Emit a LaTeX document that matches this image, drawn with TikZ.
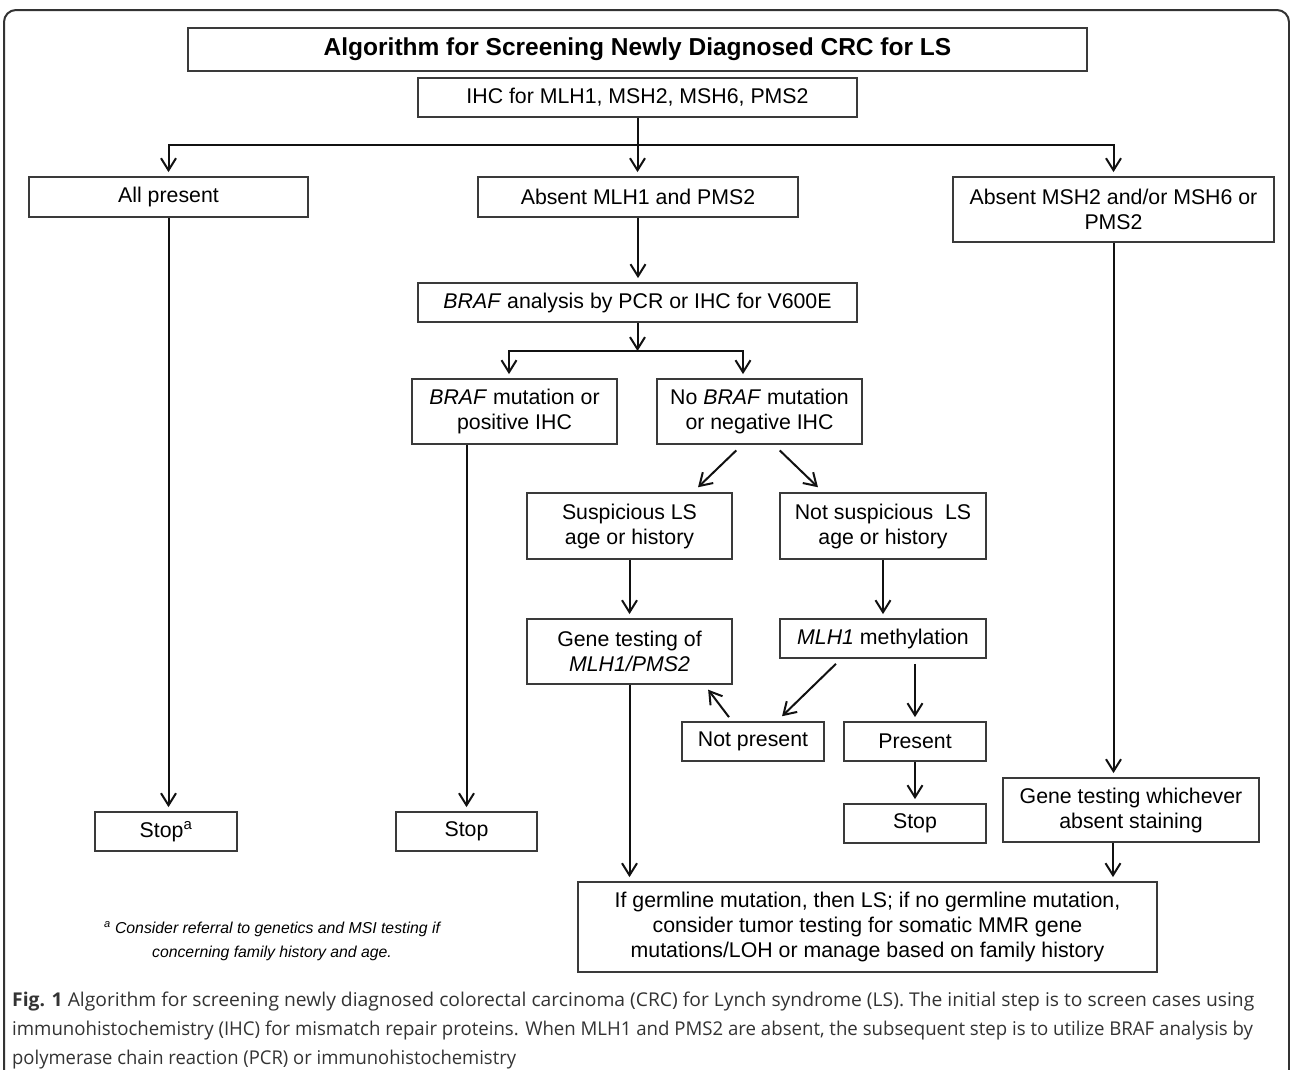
\documentclass[tikz,border=0pt]{standalone}
\usepackage{fontspec}
\usepackage{graphicx}
\setmainfont{Liberation Sans}
\newfontfamily\capfont{Open Sans}
\usetikzlibrary{arrows.meta}
\definecolor{boxgray}{HTML}{3A3A3A}
\definecolor{linecol}{HTML}{111111}
\definecolor{capgray}{HTML}{333333}
\definecolor{framegray}{HTML}{333333}
\begin{document}
\begin{tikzpicture}[x=1pt,y=-1pt,
  box/.style n args={2}{draw=boxgray, line width=1.8pt, minimum width=#1, minimum height=#2,
     inner sep=0pt, align=center, font=\fontsize{21.3}{25}\selectfont, text=black},
  conn/.style={draw=linecol, line width=2pt},
  arr/.style={conn, -{Straight Barb[length=12pt,width=15pt,line width=2pt]}, shorten >=4pt},
  foot/.style={font=\itshape\fontsize{15.8}{24}\selectfont, text=black, align=center},
  captext/.style={anchor=base west, inner sep=0pt, font=\capfont\fontsize{19}{29}\selectfont, text=capgray}]
\useasboundingbox (0,0) rectangle (1290,1069);
\begin{scope}
\clip (0,0) rectangle (1290,1069);
\draw[framegray, line width=2pt, rounded corners=12pt] (4,1090) -- (4,10) -- (1289,10) -- (1289,1090);
\end{scope}

% nodes
\node[box={899}{43}, font=\bfseries\fontsize{24.5}{28}\selectfont] (title) at (637.5,49.5) {Algorithm for Screening Newly Diagnosed CRC for LS};
\node[box={439}{39}] (ihc) at (637.5,97.5) {IHC for MLH1, MSH2, MSH6, PMS2};
\node[box={279}{40}] (allp) at (168.5,197) {All present};
\node[box={320}{40}] (absm) at (638,197) {Absent MLH1 and PMS2};
\node[box={321}{65}] (absh) at (1113.5,209.5) {Absent MSH2 and/or MSH6 or\\PMS2};
\node[box={439}{39}] (braf) at (637.5,302.5) {\textit{BRAF} analysis by PCR or IHC for V600E};
\node[box={205}{65}] (bm) at (514.5,411.5) {\textit{BRAF} mutation or\\positive IHC};
\node[box={205}{65}] (nb) at (759.5,411.5) {No \textit{BRAF} mutation\\or negative IHC};
\node[box={205}{66}] (susp) at (629.5,526) {Suspicious LS\\age or history};
\node[box={206}{66}] (nsusp) at (883,526) {Not suspicious\ \ LS\\age or history};
\node[box={205}{65}] (gt) at (629.5,651.5) {Gene testing of\\\textit{MLH1/PMS2}};
\node[box={206}{39}] (meth) at (883,638.5) {\textit{MLH1} methylation};
\node[box={142}{39}] (np) at (753,741.5) {Not present};
\node[box={142}{39}] (pres) at (915,741.5) {Present};
\node[box={142}{39}] (stopc) at (915,823.5) {Stop};
\node[box={142}{39}] (stopa) at (166,831.5) {Stop\textsuperscript{a}};
\node[box={141}{39}] (stopb) at (466.5,831.5) {Stop};
\node[box={256}{64}] (gtw) at (1131,810) {Gene testing whichever\\absent staining};
\node[box={579}{90}] (final) at (867.5,927) {If germline mutation, then LS; if no germline mutation,\\consider tumor testing for somatic MMR gene\\mutations/LOH or manage based on family history};

\node[foot] (fn) at (272,941) {\textsuperscript{a} Consider referral to genetics and MSI testing if\\concerning family history and age.};

\node[captext] (cap1) at (12,1006) {\scalebox{1.015}[1]{\textbf{Fig. 1} Algorithm for screening newly diagnosed colorectal carcinoma (CRC) for Lynch syndrome (LS). The initial step is to screen cases using}};
\node[captext] (cap2) at (12,1035) {\scalebox{0.98}[1]{immunohistochemistry (IHC) for mismatch repair proteins. When MLH1 and PMS2 are absent, the subsequent step is to utilize BRAF analysis by}};
\node[captext] (cap3) at (12,1064) {\scalebox{0.97}[1]{polymerase chain reaction (PCR) or immunohistochemistry}};

% connectors
\coordinate (j1) at (637.5,145);
\draw[conn] (ihc.south) -- (j1);
\draw[arr] (j1) -| (allp.north);
\draw[arr] (j1) -- (j1 |- absm.north);
\draw[arr] (j1) -| (absh.north);
\draw[arr] (absm.south) -- (absm.south |- braf.north);
\coordinate (j2) at (637.5,351);
\draw[arr, shorten >=0pt] (braf.south) -- (j2);
\draw[arr] (j2) -| ([xshift=-5.5pt]bm.north);
\draw[arr] (j2) -| ([xshift=-16.5pt]nb.north);
\draw[arr, shorten <=8pt, shorten >=7pt] ([xshift=-17.5pt]nb.south) -- ([xshift=63.5pt]susp.north);
\draw[arr, shorten <=8pt, shorten >=7pt] ([xshift=14.5pt]nb.south) -- ([xshift=-60pt]nsusp.north);
\draw[arr] (susp.south) -- (gt.north);
\draw[arr] (nsusp.south) -- (meth.north);
\draw[arr, shorten <=7pt, shorten >=7pt] ([xshift=-42pt]meth.south) -- ([xshift=24pt]np.north);
\draw[arr, shorten <=5pt] (pres.north |- meth.south) -- (pres.north);
\draw[arr] (pres.south) -- (stopc.north);
\draw[arr, shorten <=5pt, shorten >=6pt] ([xshift=-21pt]np.north) -- ([xshift=75pt]gt.south);
\draw[arr] (allp.south) -- (allp.south |- stopa.north);
\draw[arr] (stopb.north |- bm.south) -- (stopb.north);
\draw[arr] (gt.south) -- (gt.south |- final.north);
\draw[arr] (absh.south) -- (absh.south |- gtw.north);
\draw[arr] ([xshift=-18pt]gtw.south) -- ([xshift=-18pt]gtw.south |- final.north);
\end{tikzpicture}
\end{document}
